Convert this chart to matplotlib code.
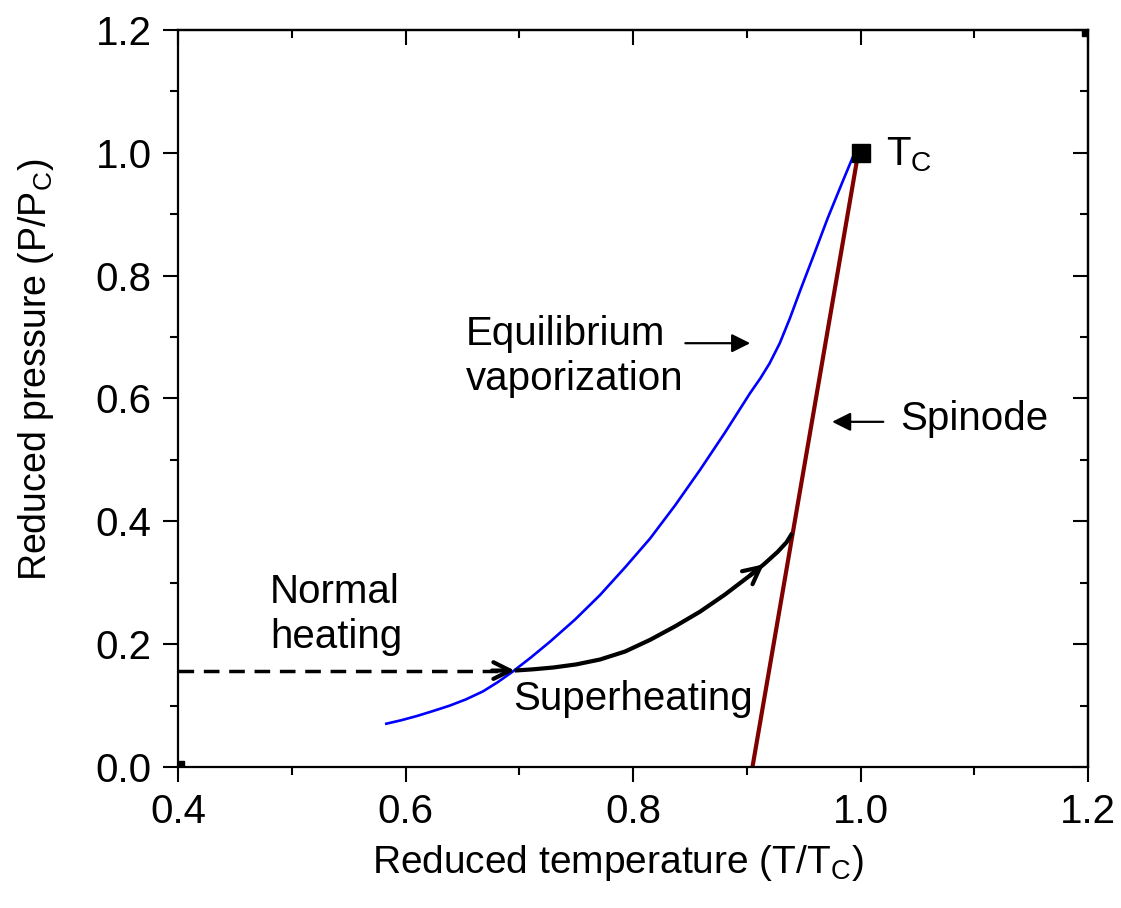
import numpy as np
import matplotlib
matplotlib.use("Agg")
import matplotlib.pyplot as plt
from matplotlib.ticker import MultipleLocator, FormatStrFormatter

plt.rcParams['font.family'] = ['Liberation Sans', 'DejaVu Sans']
plt.rcParams['mathtext.fontset'] = 'custom'
plt.rcParams['mathtext.rm'] = 'Liberation Sans'

# equilibrium vaporization curve (blue)
eq_T = [0.582, 0.596, 0.610, 0.624, 0.639, 0.653, 0.668, 0.681, 0.694, 0.710, 0.727,
        0.749, 0.771, 0.793, 0.815, 0.837, 0.859, 0.881, 0.903, 0.912, 0.920, 0.929,
        0.938, 0.947, 0.959, 0.971, 0.984, 0.997]
eq_P = [0.070, 0.076, 0.083, 0.091, 0.100, 0.110, 0.123, 0.138, 0.155, 0.178, 0.204,
        0.240, 0.280, 0.325, 0.372, 0.426, 0.484, 0.545, 0.609, 0.633, 0.657, 0.690,
        0.731, 0.776, 0.834, 0.893, 0.952, 1.010]

# spinode line (dark red)
sp_T = [0.905, 0.998]
sp_P = [0.0, 1.0]

# superheating path (black)
sh_T = [0.696, 0.712, 0.730, 0.750, 0.771, 0.793, 0.815, 0.837, 0.859, 0.881, 0.903,
        0.915, 0.927, 0.935, 0.940]
sh_P = [0.157, 0.159, 0.162, 0.167, 0.175, 0.188, 0.207, 0.229, 0.253, 0.281, 0.312,
        0.330, 0.350, 0.366, 0.381]

# normal heating (dashed)
nh_T = [0.4, 0.690]
nh_P = [0.157, 0.157]

# critical point
Tc, Pc = 1.0, 1.0

fig = plt.figure(figsize=(11.21, 9.08), dpi=100)
ax = fig.add_axes([0.1588, 0.1553, 0.8118, 0.8117])

ax.plot(eq_T, eq_P, color='#0000ff', lw=1.9, solid_capstyle='butt', solid_joinstyle='round')
ax.plot(sp_T, sp_P, color='#800000', lw=3.0, solid_capstyle='butt')
ax.plot(sh_T, sh_P, color='black', lw=3.0, solid_capstyle='butt', solid_joinstyle='round')
ax.plot(nh_T, nh_P, color='black', lw=2.5, dashes=(4.5, 2.8))
ax.plot([Tc], [Pc], 's', color='black', ms=13)
# corner squares
ax.plot([0.4, 1.2], [0.0, 1.2], 's', color='black', ms=9, clip_on=True)

# open arrowheads
ax.annotate('', xy=(sh_T[0], sh_P[0]), xytext=(sh_T[0] - 0.02, sh_P[0]),
            arrowprops=dict(arrowstyle='->', lw=3, color='black', mutation_scale=30,
                            shrinkA=0, shrinkB=0))
ax.annotate('', xy=(0.915, 0.330), xytext=(0.903, 0.312),
            arrowprops=dict(arrowstyle='->', lw=3, color='black', mutation_scale=30,
                            shrinkA=0, shrinkB=0))

# labelling arrows
ax.annotate('', xy=(0.903, 0.690), xytext=(0.846, 0.690),
            arrowprops=dict(arrowstyle='-|>', lw=1.6, color='black', mutation_scale=28,
                            shrinkA=0, shrinkB=0))
ax.annotate('', xy=(0.975, 0.562), xytext=(1.020, 0.562),
            arrowprops=dict(arrowstyle='-|>', lw=1.6, color='black', mutation_scale=28,
                            shrinkA=0, shrinkB=0))

fs = 29
ax.text(0.653, 0.687, 'Equilibrium', fontsize=fs, va='baseline')
ax.text(0.653, 0.614, 'vaporization', fontsize=fs, va='baseline')
ax.text(1.035, 0.549, 'Spinode', fontsize=fs, va='baseline')
ax.text(0.481, 0.267, 'Normal', fontsize=fs, va='baseline')
ax.text(0.481, 0.194, 'heating', fontsize=fs, va='baseline')
ax.text(0.695, 0.093, 'Superheating', fontsize=fs, va='baseline')
ax.text(1.022, 0.980, r'T$_\mathregular{C}$', fontsize=fs, va='baseline')

ax.set_xlim(0.4, 1.2)
ax.set_ylim(0.0, 1.2)
ax.xaxis.set_major_locator(MultipleLocator(0.2))
ax.xaxis.set_minor_locator(MultipleLocator(0.1))
ax.yaxis.set_major_locator(MultipleLocator(0.2))
ax.yaxis.set_minor_locator(MultipleLocator(0.1))
ax.xaxis.set_major_formatter(FormatStrFormatter('%.1f'))
ax.yaxis.set_major_formatter(FormatStrFormatter('%.1f'))
ax.tick_params(which='major', direction='out', length=11, width=1.5, labelsize=29, pad=8)
ax.tick_params(which='minor', direction='out', length=6, width=1.5)
for s in ax.spines.values():
    s.set_linewidth(1.6)

top = ax.secondary_xaxis('top')
top.xaxis.set_major_locator(MultipleLocator(0.2))
top.xaxis.set_minor_locator(MultipleLocator(0.1))
top.tick_params(which='major', direction='in', length=11, width=1.5, labeltop=False)
top.tick_params(which='minor', direction='in', length=6, width=1.5)
top.spines['top'].set_linewidth(1.6)
right = ax.secondary_yaxis('right')
right.yaxis.set_major_locator(MultipleLocator(0.2))
right.yaxis.set_minor_locator(MultipleLocator(0.1))
right.tick_params(which='major', direction='in', length=11, width=1.5, labelright=False)
right.tick_params(which='minor', direction='in', length=6, width=1.5)
right.spines['right'].set_linewidth(1.6)

ax.set_xlabel(r'Reduced temperature (T/T$_\mathregular{C}$)', fontsize=28)
ax.set_ylabel(r'Reduced pressure (P/P$_\mathregular{C}$)', fontsize=27)
ax.xaxis.set_label_coords(0.4835, -0.103)
ax.yaxis.set_label_coords(-0.134, 0.539)

fig.savefig('out.png', dpi=100)
